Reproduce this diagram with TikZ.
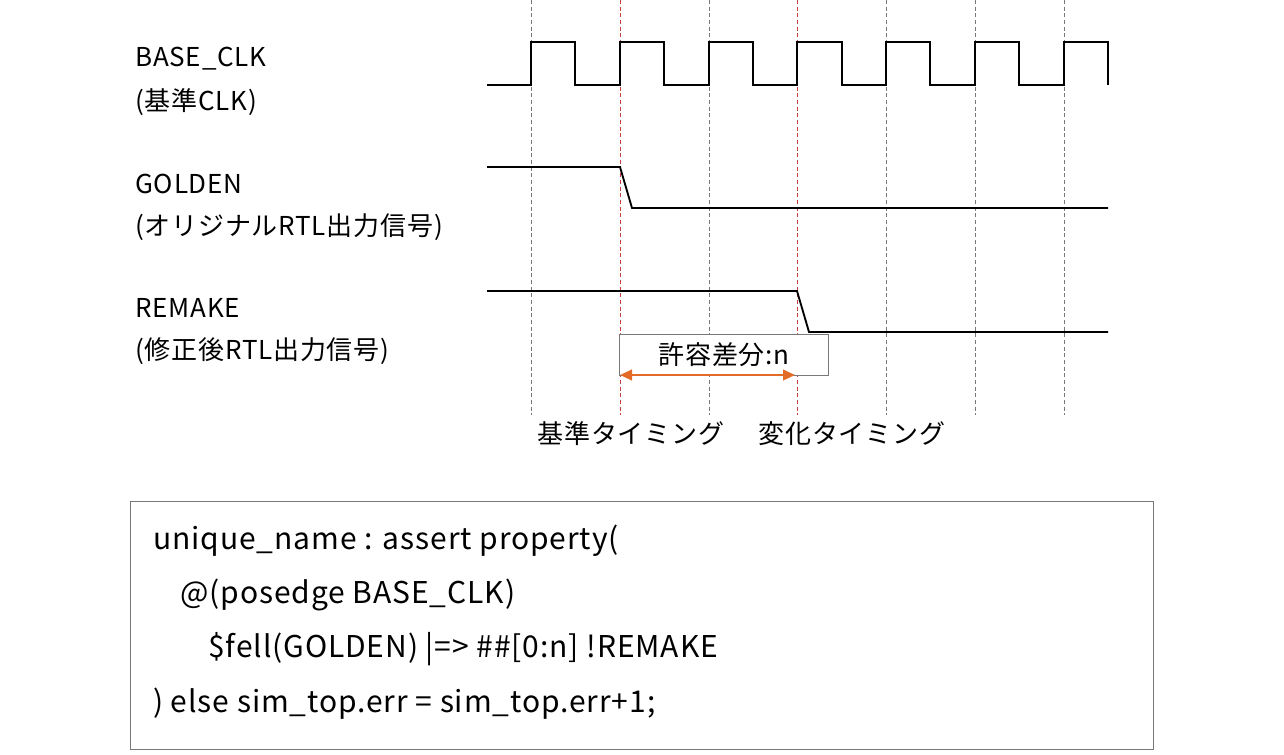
\documentclass[tikz,border=0pt]{standalone}
\usepackage{fontspec}
\setmainfont{Noto Sans CJK JP}[LetterSpace=3]
\usetikzlibrary{arrows.meta}
\definecolor{grd}{RGB}{120,120,120}
\definecolor{rdd}{RGB}{200,60,60}
\definecolor{org}{RGB}{226,107,40}
\tikzset{
  sig/.style={line width=1.4pt,line join=miter},
  grid/.style={densely dashed,line width=0.5pt,draw=grd},
  redgrid/.style={densely dashed,line width=0.5pt,draw=rdd},
  lbl/.style={anchor=west,inner sep=0pt,font=\fontsize{19.5}{22}\selectfont},
  code/.style={anchor=west,inner sep=0pt,font=\fontsize{22.5}{26}\selectfont},
}
\begin{document}
\begin{tikzpicture}[x=0.75pt,y=-0.75pt]
\useasboundingbox (0,0) rectangle (1284,754);
\foreach \x in {531,709,886,975,1064} \draw[grid] (\x,0) -- (\x,415);
\foreach \x in {620,797} \draw[redgrid] (\x,0) -- (\x,415);
\draw[sig] (487,85) -- (531,85) -- (531,42) -- (575,42) -- (575,85) -- (620,85) -- (620,42) -- (664,42) -- (664,85)
 -- (709,85) -- (709,42) -- (753,42) -- (753,85) -- (797,85) -- (797,42) -- (842,42) -- (842,85)
 -- (886,85) -- (886,42) -- (930,42) -- (930,85) -- (975,85) -- (975,42) -- (1019,42) -- (1019,85)
 -- (1064,85) -- (1064,42) -- (1108,42) -- (1108,85);
\draw[sig] (487,167) -- (620,167) -- (632,208) -- (1108,208);
\draw[sig] (487,291) -- (797,291) -- (809,332) -- (1108,332);
\node[lbl] (l1) at (135,59) {BASE\_CLK};
\node[lbl] (l2) at (135,102) {(基準CLK)};
\node[lbl] (l3) at (135,184) {GOLDEN};
\node[lbl] (l4) at (135,227) {(オリジナルRTL出力信号)};
\node[lbl] (l5) at (135,308) {REMAKE};
\node[lbl] (l6) at (135,351) {(修正後RTL出力信号)};
\node[draw=grd,line width=0.8pt,fill=white,minimum width=209*0.75pt,minimum height=41*0.75pt,anchor=north west,inner sep=0pt,font=\fontsize{19.5}{22}\selectfont] (tol) at (619,334) {許容差分:n};
\coordinate (a1) at (620,375);
\coordinate (a2) at (795,375);
\draw[org,line width=1.6pt,{Triangle[length=9pt,width=8pt]}-{Triangle[length=9pt,width=8pt]}] (a1) -- (a2);
\node[font=\fontsize{19.5}{22}\selectfont,inner sep=0pt] (t1) at (631,434) {基準タイミング};
\node[font=\fontsize{19.5}{22}\selectfont,inner sep=0pt] (t2) at (852,434) {変化タイミング};
\node[draw=grd,line width=0.8pt,minimum width=1023*0.75pt,minimum height=248*0.75pt,anchor=north west,inner sep=0pt] (cb) at (130,501) {};
\node[code] (c1) at (153,541) {unique\_name : assert property(};
\node[code] (c2) at (180,595) {@(posedge BASE\_CLK)};
\node[code] (c3) at (208,649) {\$fell(GOLDEN) |=> \#\#[0:n] !REMAKE};
\node[code] (c4) at (153,704) {) else sim\_top.err = sim\_top.err+1;};
\end{tikzpicture}
\end{document}
